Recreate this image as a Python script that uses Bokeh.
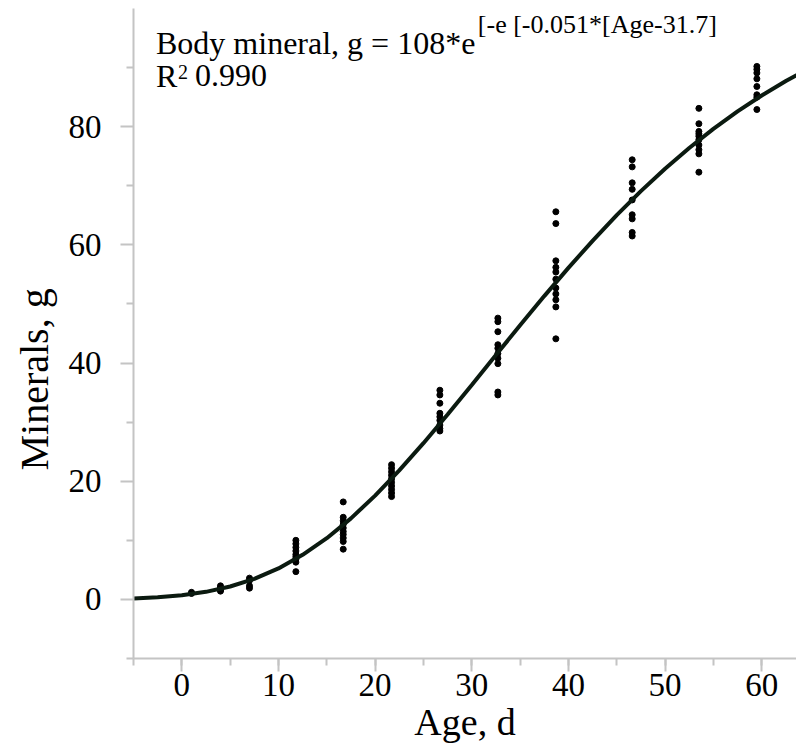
from bokeh.plotting import figure
from bokeh.models import Range1d, SingleIntervalTicker, FixedTicker, Label, Title
from bokeh.embed import file_html
from bokeh.resources import INLINE

age_groups = [1.0, 4.0, 7.0, 11.8, 16.7, 21.7, 26.7, 32.7, 38.7, 46.6, 53.5, 59.5]
minerals_by_age = [
    [1.0, 1.2],
    [2.3, 2.0, 1.8, 1.6, 1.4],
    [3.6, 3.2, 2.3, 1.9],
    [10.0, 9.4, 8.8, 8.2, 7.6, 7.2, 6.8, 6.3, 4.7],
    [16.5, 13.9, 13.3, 12.7, 12.1, 11.5, 11.0, 10.4, 9.8, 8.5],
    [22.8, 22.2, 21.6, 21.0, 20.4, 19.8, 19.2, 18.6, 18.0, 17.4],
    [35.4, 34.6, 33.2, 31.5, 30.9, 30.3, 29.5, 28.9, 28.5],
    [47.6, 47.0, 45.3, 43.1, 42.5, 41.6, 40.8, 39.9, 35.1, 34.6],
    [65.6, 63.6, 57.3, 56.2, 55.4, 54.2, 52.7, 51.7, 50.7, 49.5, 44.1],
    [74.4, 73.2, 70.5, 69.4, 67.6, 65.1, 64.4, 62.1, 61.5],
    [83.1, 80.5, 79.2, 78.8, 78.4, 77.8, 76.9, 76.1, 75.4, 72.3],
    [90.2, 89.7, 89.1, 88.1, 86.8, 85.4, 85.0, 82.9],
]

# Fitted curve (Gompertz) read at these ages
curve_age = [-5, -2.5, 0, 2.5, 5, 7.5, 10, 12.5, 15, 17.5, 20, 22.5, 25, 27.5, 30,
             32.5, 35, 37.5, 40, 42.5, 45, 47.5, 50, 52.5, 55, 57.5, 60, 62.5, 65]
curve_mineral = [0.16, 0.35, 0.70, 1.28, 2.18, 3.48, 5.25, 7.54, 10.36, 13.72, 17.57,
                 21.83, 26.44, 31.29, 36.29, 41.35, 46.39, 51.33, 56.11, 60.68, 65.02,
                 69.09, 72.89, 76.40, 79.63, 82.59, 85.28, 87.73, 89.94]

y_major_ticks = [0, 20, 40, 60, 80]
y_minor_ticks = [-10, 10, 30, 50, 70, 90]

pt_x = []
pt_y = []
for a, vals in zip(age_groups, minerals_by_age):
    for v in vals:
        pt_x.append(a)
        pt_y.append(v)

FONT = "Liberation Serif"
GRAY = "#c4c4c4"

p = figure(width=796, height=745, output_backend="svg", toolbar_location=None,
           x_range=Range1d(-5, 63.6), y_range=Range1d(-10, 100))
p.min_border_left = 133
p.min_border_right = 0
p.min_border_top = 8
p.min_border_bottom = 87
p.outline_line_color = None
p.xgrid.visible = False
p.ygrid.visible = False
p.background_fill_color = "white"
p.border_fill_color = "white"

p.scatter(pt_x, pt_y, size=6, color="black")
p.line(curve_age, curve_mineral, line_width=4, color="#0b1a10")

for ax in (p.xaxis[0], p.yaxis[0]):
    ax.axis_line_color = GRAY
    ax.axis_line_width = 2
    ax.major_tick_line_color = GRAY
    ax.major_tick_line_width = 2
    ax.minor_tick_line_color = GRAY
    ax.minor_tick_line_width = 2
    ax.major_tick_in = 0
    ax.major_tick_out = 13
    ax.minor_tick_in = 0
    ax.minor_tick_out = 7
    ax.major_label_text_font = FONT
    ax.major_label_text_font_size = "33px"
    ax.major_label_text_color = "black"
    ax.axis_label_text_font = FONT
    ax.axis_label_text_font_size = "38px"
    ax.axis_label_text_font_style = "normal"
    ax.axis_label_text_color = "black"

p.xaxis.ticker = SingleIntervalTicker(interval=10, num_minor_ticks=2)
p.yaxis.ticker = FixedTicker(ticks=y_major_ticks, minor_ticks=y_minor_ticks)
p.xaxis.major_label_standoff = 2
p.yaxis.major_label_standoff = 19
p.xaxis.axis_label = "Age, d"
p.xaxis.axis_label_standoff = 2
p.xaxis.axis_label_text_line_height = 0.7
p.xaxis.major_label_text_line_height = 0.9

# y-axis title, placed lower than the frame centre as in the reference
p.add_layout(Title(text="Minerals, g", align="left", offset=188, standoff=18,
                   text_font=FONT, text_font_size="40px", text_color="black",
                   text_font_style="normal"), "left")

# equation annotation
p.add_layout(Label(x=-2.67, y=94.1, text="Body mineral, g = 108*e",
                   text_font=FONT, text_font_size="32px", text_color="black",
                   text_baseline="alphabetic"))
p.add_layout(Label(x=30.63, y=97.3, text="[-e [-0.051*[Age-31.7]",
                   text_font=FONT, text_font_size="26px", text_color="black",
                   text_baseline="alphabetic"))
p.add_layout(Label(x=-2.67, y=88.6, text="R",
                   text_font=FONT, text_font_size="32px", text_color="black",
                   text_baseline="alphabetic"))
p.add_layout(Label(x=-0.39, y=89.2, text="2",
                   text_font=FONT, text_font_size="20px", text_color="black",
                   text_baseline="alphabetic"))
p.add_layout(Label(x=1.37, y=88.6, text="0.990",
                   text_font=FONT, text_font_size="32px", text_color="black",
                   text_baseline="alphabetic"))

open("out.html", "w").write(file_html(p, INLINE))
